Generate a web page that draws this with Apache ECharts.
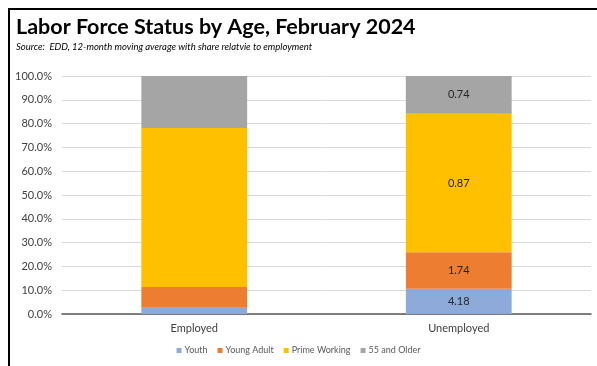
<!DOCTYPE html>
<html>
<head>
<meta charset="utf-8">
<script src="https://cdn.jsdelivr.net/npm/echarts@6/dist/echarts.min.js"></script>
<style>
  html, body { margin: 0; padding: 0; background: #fff; }
  #frame { position: absolute; left: 8px; top: 8px; width: 589px; height: 358px;
           border-top: 2px solid #000; border-left: 2px solid #000; }
  #chart { position: absolute; left: 0; top: 0; width: 597px; height: 366px; }
</style>
</head>
<body>
<div id="frame"></div>
<div id="chart"></div>
<script>
// categories and series (share of each group, %)
const categories = ["Employed", "Unemployed"];
const youth = [2.6, 10.6];
const youngAdult = [8.7, 15.3];
const primeWorking = [66.9, 58.2];
const olderWorkers = [21.8, 15.9];
// ratio labels shown on the Unemployed bar (share relative to employment)
const youthRatio = [null, 4.18];
const youngAdultRatio = [null, 1.74];
const primeRatio = [null, 0.87];
const olderRatio = [null, 0.74];

const chart = echarts.init(document.getElementById("chart"));

function makeSeries(name, values, ratios, color) {
  return {
    name: name,
    type: "bar",
    stack: "total",
    barWidth: "40%",
    data: values,
    itemStyle: { color: color },
    label: {
      show: true,
      position: "inside",
      color: "#262626",
      fontSize: 11,
      fontFamily: "Lato",
      formatter: (p) => (ratios[p.dataIndex] == null ? "" : ratios[p.dataIndex].toFixed(2)),
    },
  };
}

chart.setOption({
  animation: false,
  textStyle: { fontFamily: "Lato" },
  title: {
    text: "Labor Force Status by Age, February 2024",
    subtext: "Source:  EDD, 12-month moving average with share relatvie to employment",
    left: 11,
    top: 11,
    itemGap: 4,
    textStyle: { fontSize: 21.5, fontWeight: "bold", color: "#000", fontFamily: "Lato" },
    subtextStyle: { fontSize: 9.5, fontStyle: "italic", color: "#000", fontFamily: "Lato" },
  },
  grid: { left: 62, right: 6, top: 76, bottom: 52 },
  legend: {
    bottom: 6,
    left: "center",
    itemWidth: 5,
    itemHeight: 5,
    itemGap: 10,
    icon: "rect",
    textStyle: { fontSize: 9, color: "#595959", fontFamily: "Lato", padding: [0, 0, 0, -2] },
    data: ["Youth", "Young Adult", "Prime Working", "55 and Older"],
  },
  xAxis: {
    type: "category",
    data: categories,
    axisTick: { show: false },
    axisLine: { lineStyle: { color: "#595959", width: 1.5 } },
    axisLabel: { color: "#404040", fontSize: 11, margin: 9 },
  },
  yAxis: {
    type: "value",
    min: 0,
    max: 100,
    interval: 10,
    axisLine: { show: false },
    axisTick: { show: false },
    splitLine: { lineStyle: { color: "#d9d9d9", width: 1 } },
    axisLabel: {
      color: "#404040",
      fontSize: 11,
      margin: 10,
      formatter: (v) => v.toFixed(1) + "%",
    },
  },
  series: [
    makeSeries("Youth", youth, youthRatio, "#8eaadb"),
    makeSeries("Young Adult", youngAdult, youngAdultRatio, "#ed7d31"),
    makeSeries("Prime Working", primeWorking, primeRatio, "#ffc000"),
    makeSeries("55 and Older", olderWorkers, olderRatio, "#a5a5a5"),
  ],
});
</script>
</body>
</html>
